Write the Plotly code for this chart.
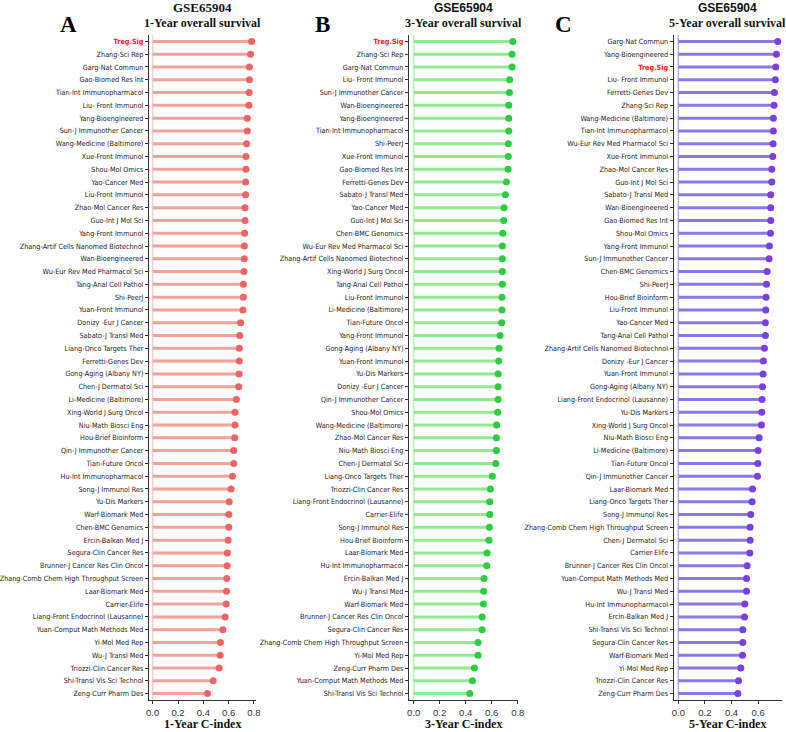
import plotly.graph_objects as go

W, H = 786, 732
MT, MB = 35, 32

labels_1y = ["Treg.Sig", "Zhang-Sci Rep", "Garg-Nat Commun", "Gao-Biomed Res Int", "Tian-Int Immunopharmacol",
             "Liu- Front Immunol", "Yang-Bioengineered", "Sun-J Immunother Cancer", "Wang-Medicine (Baltimore)",
             "Xue-Front Immunol", "Shou-Mol Omics", "Yao-Cancer Med", "Liu-Front Immunol", "Zhao-Mol Cancer Res",
             "Guo-Int J Mol Sci", "Yang-Front Immunol", "Zhang-Artif Cells Nanomed Biotechnol", "Wan-Bioengineered",
             "Wu-Eur Rev Med Pharmacol Sci", "Tang-Anal Cell Pathol", "Shi-PeerJ", "Yuan-Front Immunol",
             "Donizy -Eur J Cancer", "Sabato-J Transl Med", "Liang-Onco Targets Ther", "Ferretti-Genes Dev",
             "Gong-Aging (Albany NY)", "Chen-J Dermatol Sci", "Li-Medicine (Baltimore)", "Xing-World J Surg Oncol",
             "Niu-Math Biosci Eng", "Hou-Brief Bioinform", "Qin-J Immunother Cancer", "Tian-Future Oncol",
             "Hu-Int Immunopharmacol", "Song-J Immunol Res", "Yu-Dis Markers", "Warf-Biomark Med",
             "Chen-BMC Genomics", "Ercin-Balkan Med J", "Segura-Clin Cancer Res", "Brunner-J Cancer Res Clin Oncol",
             "Zhang-Comb Chem High Throughput Screen", "Laar-Biomark Med", "Carrier-Elife",
             "Liang-Front Endocrinol (Lausanne)", "Yuan-Comput Math Methods Med", "Yi-Mol Med Rep",
             "Wu-J Transl Med", "Triozzi-Clin Cancer Res", "Shi-Transl Vis Sci Technol", "Zeng-Curr Pharm Des"]
cindex_1y = [0.781, 0.773, 0.764, 0.764, 0.762, 0.760, 0.747, 0.747, 0.742, 0.737, 0.737, 0.734, 0.734,
             0.729, 0.729, 0.726, 0.724, 0.724, 0.721, 0.716, 0.716, 0.713, 0.695, 0.687, 0.684, 0.684,
             0.682, 0.679, 0.661, 0.650, 0.650, 0.648, 0.640, 0.640, 0.630, 0.619, 0.604, 0.601, 0.601,
             0.596, 0.590, 0.588, 0.585, 0.583, 0.580, 0.572, 0.554, 0.535, 0.533, 0.525, 0.478, 0.433]

labels_3y = ["Treg.Sig", "Zhang-Sci Rep", "Garg-Nat Commun", "Liu- Front Immunol", "Sun-J Immunother Cancer",
             "Wan-Bioengineered", "Yang-Bioengineered", "Tian-Int Immunopharmacol", "Shi-PeerJ",
             "Xue-Front Immunol", "Gao-Biomed Res Int", "Ferretti-Genes Dev", "Sabato-J Transl Med",
             "Yao-Cancer Med", "Guo-Int J Mol Sci", "Chen-BMC Genomics", "Wu-Eur Rev Med Pharmacol Sci",
             "Zhang-Artif Cells Nanomed Biotechnol", "Xing-World J Surg Oncol", "Tang-Anal Cell Pathol",
             "Liu-Front Immunol", "Li-Medicine (Baltimore)", "Tian-Future Oncol", "Yang-Front Immunol",
             "Gong-Aging (Albany NY)", "Yuan-Front Immunol", "Yu-Dis Markers", "Donizy -Eur J Cancer",
             "Qin-J Immunother Cancer", "Shou-Mol Omics", "Wang-Medicine (Baltimore)", "Zhao-Mol Cancer Res",
             "Niu-Math Biosci Eng", "Chen-J Dermatol Sci", "Liang-Onco Targets Ther", "Triozzi-Clin Cancer Res",
             "Liang-Front Endocrinol (Lausanne)", "Carrier-Elife", "Song-J Immunol Res", "Hou-Brief Bioinform",
             "Laar-Biomark Med", "Hu-Int Immunopharmacol", "Ercin-Balkan Med J", "Wu-J Transl Med",
             "Warf-Biomark Med", "Brunner-J Cancer Res Clin Oncol", "Segura-Clin Cancer Res",
             "Zhang-Comb Chem High Throughput Screen", "Yi-Mol Med Rep", "Zeng-Curr Pharm Des",
             "Yuan-Comput Math Methods Med", "Shi-Transl Vis Sci Technol"]
cindex_3y = [0.762, 0.756, 0.756, 0.738, 0.736, 0.731, 0.731, 0.731, 0.728, 0.728, 0.726, 0.713, 0.705,
             0.695, 0.692, 0.685, 0.682, 0.682, 0.682, 0.682, 0.679, 0.679, 0.677, 0.664, 0.656, 0.654,
             0.649, 0.649, 0.649, 0.646, 0.638, 0.636, 0.636, 0.631, 0.605, 0.590, 0.585, 0.585, 0.582,
             0.579, 0.564, 0.562, 0.541, 0.538, 0.536, 0.526, 0.526, 0.495, 0.495, 0.467, 0.451, 0.431]

labels_5y = ["Garg-Nat Commun", "Yang-Bioengineered", "Treg.Sig", "Liu- Front Immunol", "Ferretti-Genes Dev",
             "Zhang-Sci Rep", "Wang-Medicine (Baltimore)", "Tian-Int Immunopharmacol",
             "Wu-Eur Rev Med Pharmacol Sci", "Xue-Front Immunol", "Zhao-Mol Cancer Res", "Guo-Int J Mol Sci",
             "Sabato-J Transl Med", "Wan-Bioengineered", "Gao-Biomed Res Int", "Shou-Mol Omics",
             "Yang-Front Immunol", "Sun-J Immunother Cancer", "Chen-BMC Genomics", "Shi-PeerJ",
             "Hou-Brief Bioinform", "Liu-Front Immunol", "Yao-Cancer Med", "Tang-Anal Cell Pathol",
             "Zhang-Artif Cells Nanomed Biotechnol", "Donizy -Eur J Cancer", "Yuan-Front Immunol",
             "Gong-Aging (Albany NY)", "Liang-Front Endocrinol (Lausanne)", "Yu-Dis Markers",
             "Xing-World J Surg Oncol", "Niu-Math Biosci Eng", "Li-Medicine (Baltimore)", "Tian-Future Oncol",
             "Qin-J Immunother Cancer", "Laar-Biomark Med", "Liang-Onco Targets Ther", "Song-J Immunol Res",
             "Zhang-Comb Chem High Throughput Screen", "Chen-J Dermatol Sci", "Carrier-Elife",
             "Brunner-J Cancer Res Clin Oncol", "Yuan-Comput Math Methods Med", "Wu-J Transl Med",
             "Hu-Int Immunopharmacol", "Ercin-Balkan Med J", "Shi-Transl Vis Sci Technol",
             "Segura-Clin Cancer Res", "Warf-Biomark Med", "Yi-Mol Med Rep", "Triozzi-Clin Cancer Res",
             "Zeng-Curr Pharm Des"]
cindex_5y = [0.748, 0.738, 0.733, 0.730, 0.723, 0.720, 0.715, 0.715, 0.713, 0.710, 0.703, 0.703, 0.695,
             0.695, 0.695, 0.693, 0.685, 0.683, 0.668, 0.663, 0.660, 0.658, 0.655, 0.655, 0.648, 0.640,
             0.638, 0.633, 0.630, 0.628, 0.625, 0.608, 0.600, 0.598, 0.595, 0.558, 0.555, 0.545, 0.540,
             0.540, 0.538, 0.518, 0.513, 0.513, 0.500, 0.498, 0.485, 0.485, 0.483, 0.470, 0.453, 0.448]

panel_letters = ["A", "B", "C"]
panel_titles = ["1-Year overall survival", "3-Year overall survival", "5-Year overall survival"]
axis_titles = ["1-Year C-index", "3-Year C-index", "5-Year C-index"]
dataset = "GSE65904"
x_ticks = [[0.0, 0.2, 0.4, 0.6, 0.8], [0.0, 0.2, 0.4, 0.6, 0.8], [0.0, 0.2, 0.4, 0.6]]

panels = [
    dict(labels=labels_1y, vals=cindex_1y, dom=(149, 256), rng=(-0.029, 0.816),
         seg="#F4A29B", dot="#EE6464", vline="#F9CFC9", letter_x=68, title_font="Liberation Serif"),
    dict(labels=labels_3y, vals=cindex_3y, dom=(409, 518), rng=(-0.036, 0.802),
         seg="#8EEB8E", dot="#2ECC40", vline="#B6F5B6", letter_x=322, title_font="Liberation Sans"),
    dict(labels=labels_5y, vals=cindex_5y, dom=(673.7, 782), rng=(-0.035, 0.78),
         seg="#8A78EA", dot="#7B3FE0", vline="#B4AAF5", letter_x=563, title_font="Liberation Sans"),
]

label_font = "DejaVu Sans Condensed, Liberation Sans, sans-serif"


def py(px):
    # pixel row (from top of the page) -> paper coordinate (paper spans the plot area)
    return (H - MB - px) / (H - MT - MB)


fig = go.Figure()
annotations = []
shapes = []
for i, p in enumerate(panels):
    n = "" if i == 0 else str(i + 1)
    xa, ya = "x" + n, "y" + n
    seg_x, seg_y = [], []
    for lab, v in zip(p["labels"], p["vals"]):
        seg_x += [0, v, None]
        seg_y += [lab, lab, None]
    fig.add_trace(go.Scatter(x=seg_x, y=seg_y, mode="lines", xaxis=xa, yaxis=ya,
                             line=dict(color=p["seg"], width=3), hoverinfo="skip", showlegend=False))
    fig.add_trace(go.Scatter(x=p["vals"], y=p["labels"], mode="markers", xaxis=xa, yaxis=ya,
                             marker=dict(color=p["dot"], size=7), showlegend=False))
    ticktext = ["<span style='color:#FF1A1A'><b>Treg.Sig</b></span>" if l == "Treg.Sig" else l
                for l in p["labels"]]
    fig.update_layout(**{
        ("xaxis" + n): dict(domain=[p["dom"][0] / W, p["dom"][1] / W], range=list(p["rng"]),
                            anchor=ya, tickvals=x_ticks[i], ticktext=[f"{t:.1f}" for t in x_ticks[i]],
                            showline=True, linecolor="#333333", linewidth=1.3, ticks="outside",
                            ticklen=3, tickcolor="#333333", showgrid=False, zeroline=False,
                            automargin=False,
                            tickfont=dict(family="Liberation Sans", size=9.5, color="#333333")),
        ("yaxis" + n): dict(domain=[0, 1], anchor=xa, type="category",
                            categoryorder="array", categoryarray=p["labels"][::-1],
                            range=[-0.5, len(p["labels"]) - 0.5],
                            tickmode="array", tickvals=p["labels"], ticktext=ticktext,
                            showline=True, linecolor="#333333", linewidth=1.3, ticks="outside",
                            ticklen=3, tickcolor="#333333", showgrid=False, zeroline=False,
                            automargin=False,
                            tickfont=dict(family=label_font, size=7.2, color="#222222")),
    })
    shapes.append(dict(type="line", xref=xa, yref=ya + " domain", x0=0, x1=0, y0=0, y1=1,
                       line=dict(color=p["vline"], width=1.5), layer="below"))
    cx = (p["dom"][0] + p["dom"][1]) / 2 / W
    annotations.append(dict(text="<b>" + dataset + "</b>", x=cx, y=py(8), xref="paper", yref="paper",
                            showarrow=False, xanchor="center", yanchor="middle",
                            font=dict(family=p["title_font"], size=13 if i == 0 else 12, color="#111111")))
    annotations.append(dict(text="<b>" + panel_titles[i] + "</b>", x=cx, y=py(23),
                            xref="paper", yref="paper", showarrow=False, xanchor="center", yanchor="middle",
                            font=dict(family="Liberation Serif", size=12, color="#111111")))
    annotations.append(dict(text="<b>" + panel_letters[i] + "</b>", x=p["letter_x"] / W, y=py(25),
                            xref="paper", yref="paper", showarrow=False, xanchor="center", yanchor="middle",
                            font=dict(family="Liberation Serif", size=23, color="#000000")))
    annotations.append(dict(text="<b>" + axis_titles[i] + "</b>", x=cx, y=py(724),
                            xref="paper", yref="paper", showarrow=False, xanchor="center", yanchor="middle",
                            font=dict(family="Liberation Serif", size=12, color="#111111")))

fig.update_layout(width=W, height=H, margin=dict(l=0, r=0, t=MT, b=MB, autoexpand=False),
                  paper_bgcolor="white", plot_bgcolor="white",
                  annotations=annotations, shapes=shapes)
fig.write_html("out.html")
